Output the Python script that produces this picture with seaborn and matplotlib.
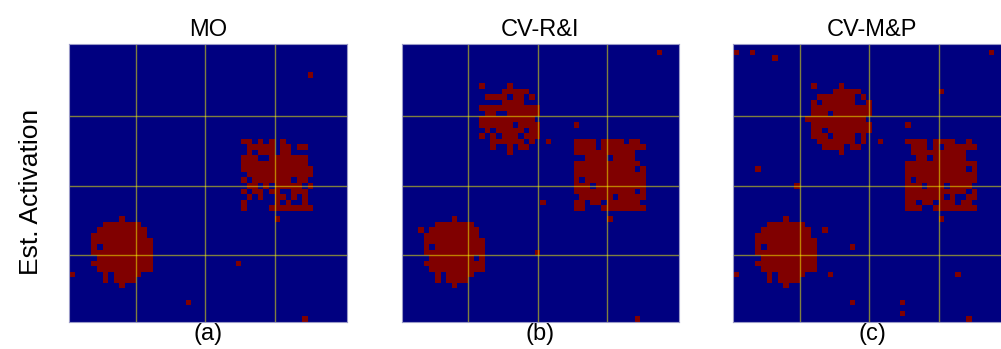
import numpy as np
import matplotlib
matplotlib.use("Agg")
import matplotlib.pyplot as plt
import seaborn as sns

# ---------------- data ----------------
titles = ["MO", "CV-R&I", "CV-M&P"]
sublabels = ["(a)", "(b)", "(c)"]
ylabel_text = "Est. Activation"
grid_n = 50
vlines = [12, 24.5, 37]
hlines = [13, 25.5, 38]

# activation blobs: (top row, left col, mask rows)
left_blob_a = [
    ".....#.....",
    "..#######..",
    ".#########.",
    "##########.",
    "###########",
    "#.#########",
    "###########",
    ".##########",
    "###########",
    ".##########",
    "..#.#####..",
    "..#.####...",
    ".....#.....",
]
left_blob_b = [
    ".....#.....",
    "..#######..",
    ".#########.",
    "##########.",
    "###########",
    "#.#########",
    "###########",
    ".########.#",
    "###########",
    ".##########",
    "..#.#####..",
    "..#.####...",
    ".....#.....",
]
left_blob_c = list(left_blob_a)

right_blob_a = [
    "##.#.#.#.....",
    ".#####.##.##.",
    ".#.###.##....",
    "###..#######.",
    "############.",
    "#############",
    ".############",
    "#.#######.##.",
    ".##.#.#####.#",
    "#.##.##..###.",
    ".#.#..##.#.#.",
    "#.....#.#..#.",
    "#....########",
]
right_blob_b = [
    "####.####.##.",
    "####.########",
    "###########..",
    "..####.####..",
    "############.",
    "###########.#",
    "#############",
    "#.###########",
    "###.#########",
    "###########.#",
    ".######.#####",
    "##.##.######.",
    "##...########",
]
right_blob_c = [
    "####.####..#.",
    ".###.#.######",
    ".##########..",
    "..##.######..",
    "#############",
    "###########.#",
    "#############",
    "#.###########",
    "###.###.####.",
    "###########.#",
    "#######.#..##",
    "##.##.###.##.",
    "###..########",
]
top_blob_b = [
    ".#....#.....",
    ".....#####..",
    "..####.##.#.",
    ".....####...",
    ".###########",
    "..##..######",
    ".##########.",
    ".######.####",
    "..#.#####.##",
    ".#.#.###.###",
    "...######.#.",
    "...#..#.##..",
    "......#.....",
]
top_blob_c = [
    ".#....#.....",
    ".....#####..",
    "..#######.#.",
    ".#.######..#",
    ".###########",
    ".###.#######",
    "###########.",
    ".###########",
    ".##.########",
    ".###.####.#.",
    "..#######.#.",
    "...####.##..",
    "......#.....",
]

# isolated active cells (row, col)
points_a = [(5, 43), (31, 37), (39, 30), (41, 0), (46, 21), (49, 42)]
points_b = [(1, 46), (14, 31), (17, 26), (28, 25), (31, 37), (37, 24), (49, 42), (33, 3)]
points_c = [(1, 0), (1, 3), (2, 7), (1, 46), (8, 37), (14, 31), (17, 26), (22, 4),
            (25, 11), (31, 37), (33, 16), (36, 21), (41, 0), (41, 17), (41, 40),
            (46, 21), (46, 30), (48, 30), (49, 42)]

blobs_a = [(31, 4, left_blob_a), (17, 31, right_blob_a)]
blobs_b = [(31, 4, left_blob_b), (17, 31, right_blob_b), (7, 13, top_blob_b)]
blobs_c = [(31, 4, left_blob_c), (17, 31, right_blob_c), (7, 13, top_blob_c)]


def build(blobs, points):
    m = np.zeros((grid_n, grid_n))
    for r0, c0, rows in blobs:
        for i, row in enumerate(rows):
            for j, ch in enumerate(row):
                if ch == "#":
                    m[r0 + i, c0 + j] = 1
    for r, c in points:
        m[r, c] = 1
    return m


mats = [build(blobs_a, points_a), build(blobs_b, points_b), build(blobs_c, points_c)]

# ---------------- figure ----------------
plt.rcParams['font.family'] = ['Liberation Sans', 'DejaVu Sans']
fig = plt.figure(figsize=(10.01, 3.49), dpi=100)

W, H = 1001.0, 349.0
lefts = [69.3, 401.7, 733.3]
top_px, size_px = 44.3, 277.4

for k in range(3):
    ax = fig.add_axes([lefts[k] / W, 1 - (top_px + size_px) / H, size_px / W, size_px / H])
    sns.heatmap(mats[k], ax=ax, cmap="jet", vmin=0, vmax=1, cbar=False,
                xticklabels=False, yticklabels=False)
    for v in vlines:
        ax.axvline(v, color="#ffff00", alpha=0.5, lw=1.0)
    for h in hlines:
        ax.axhline(h, color="#ffff00", alpha=0.5, lw=1.0)
    ax.set_xticks([])
    ax.set_yticks([])
    for s in ax.spines.values():
        s.set_visible(True)
        s.set_color("#9a9ac8")
        s.set_linewidth(0.8)
    ax.set_title(titles[k], fontsize=17, pad=6)
    ax.set_xlabel(sublabels[k], fontsize=17, labelpad=1)

fig.text(0.031, 0.45, ylabel_text, rotation=90, va="center", ha="center", fontsize=19)

fig.savefig("out.png", dpi=100)
